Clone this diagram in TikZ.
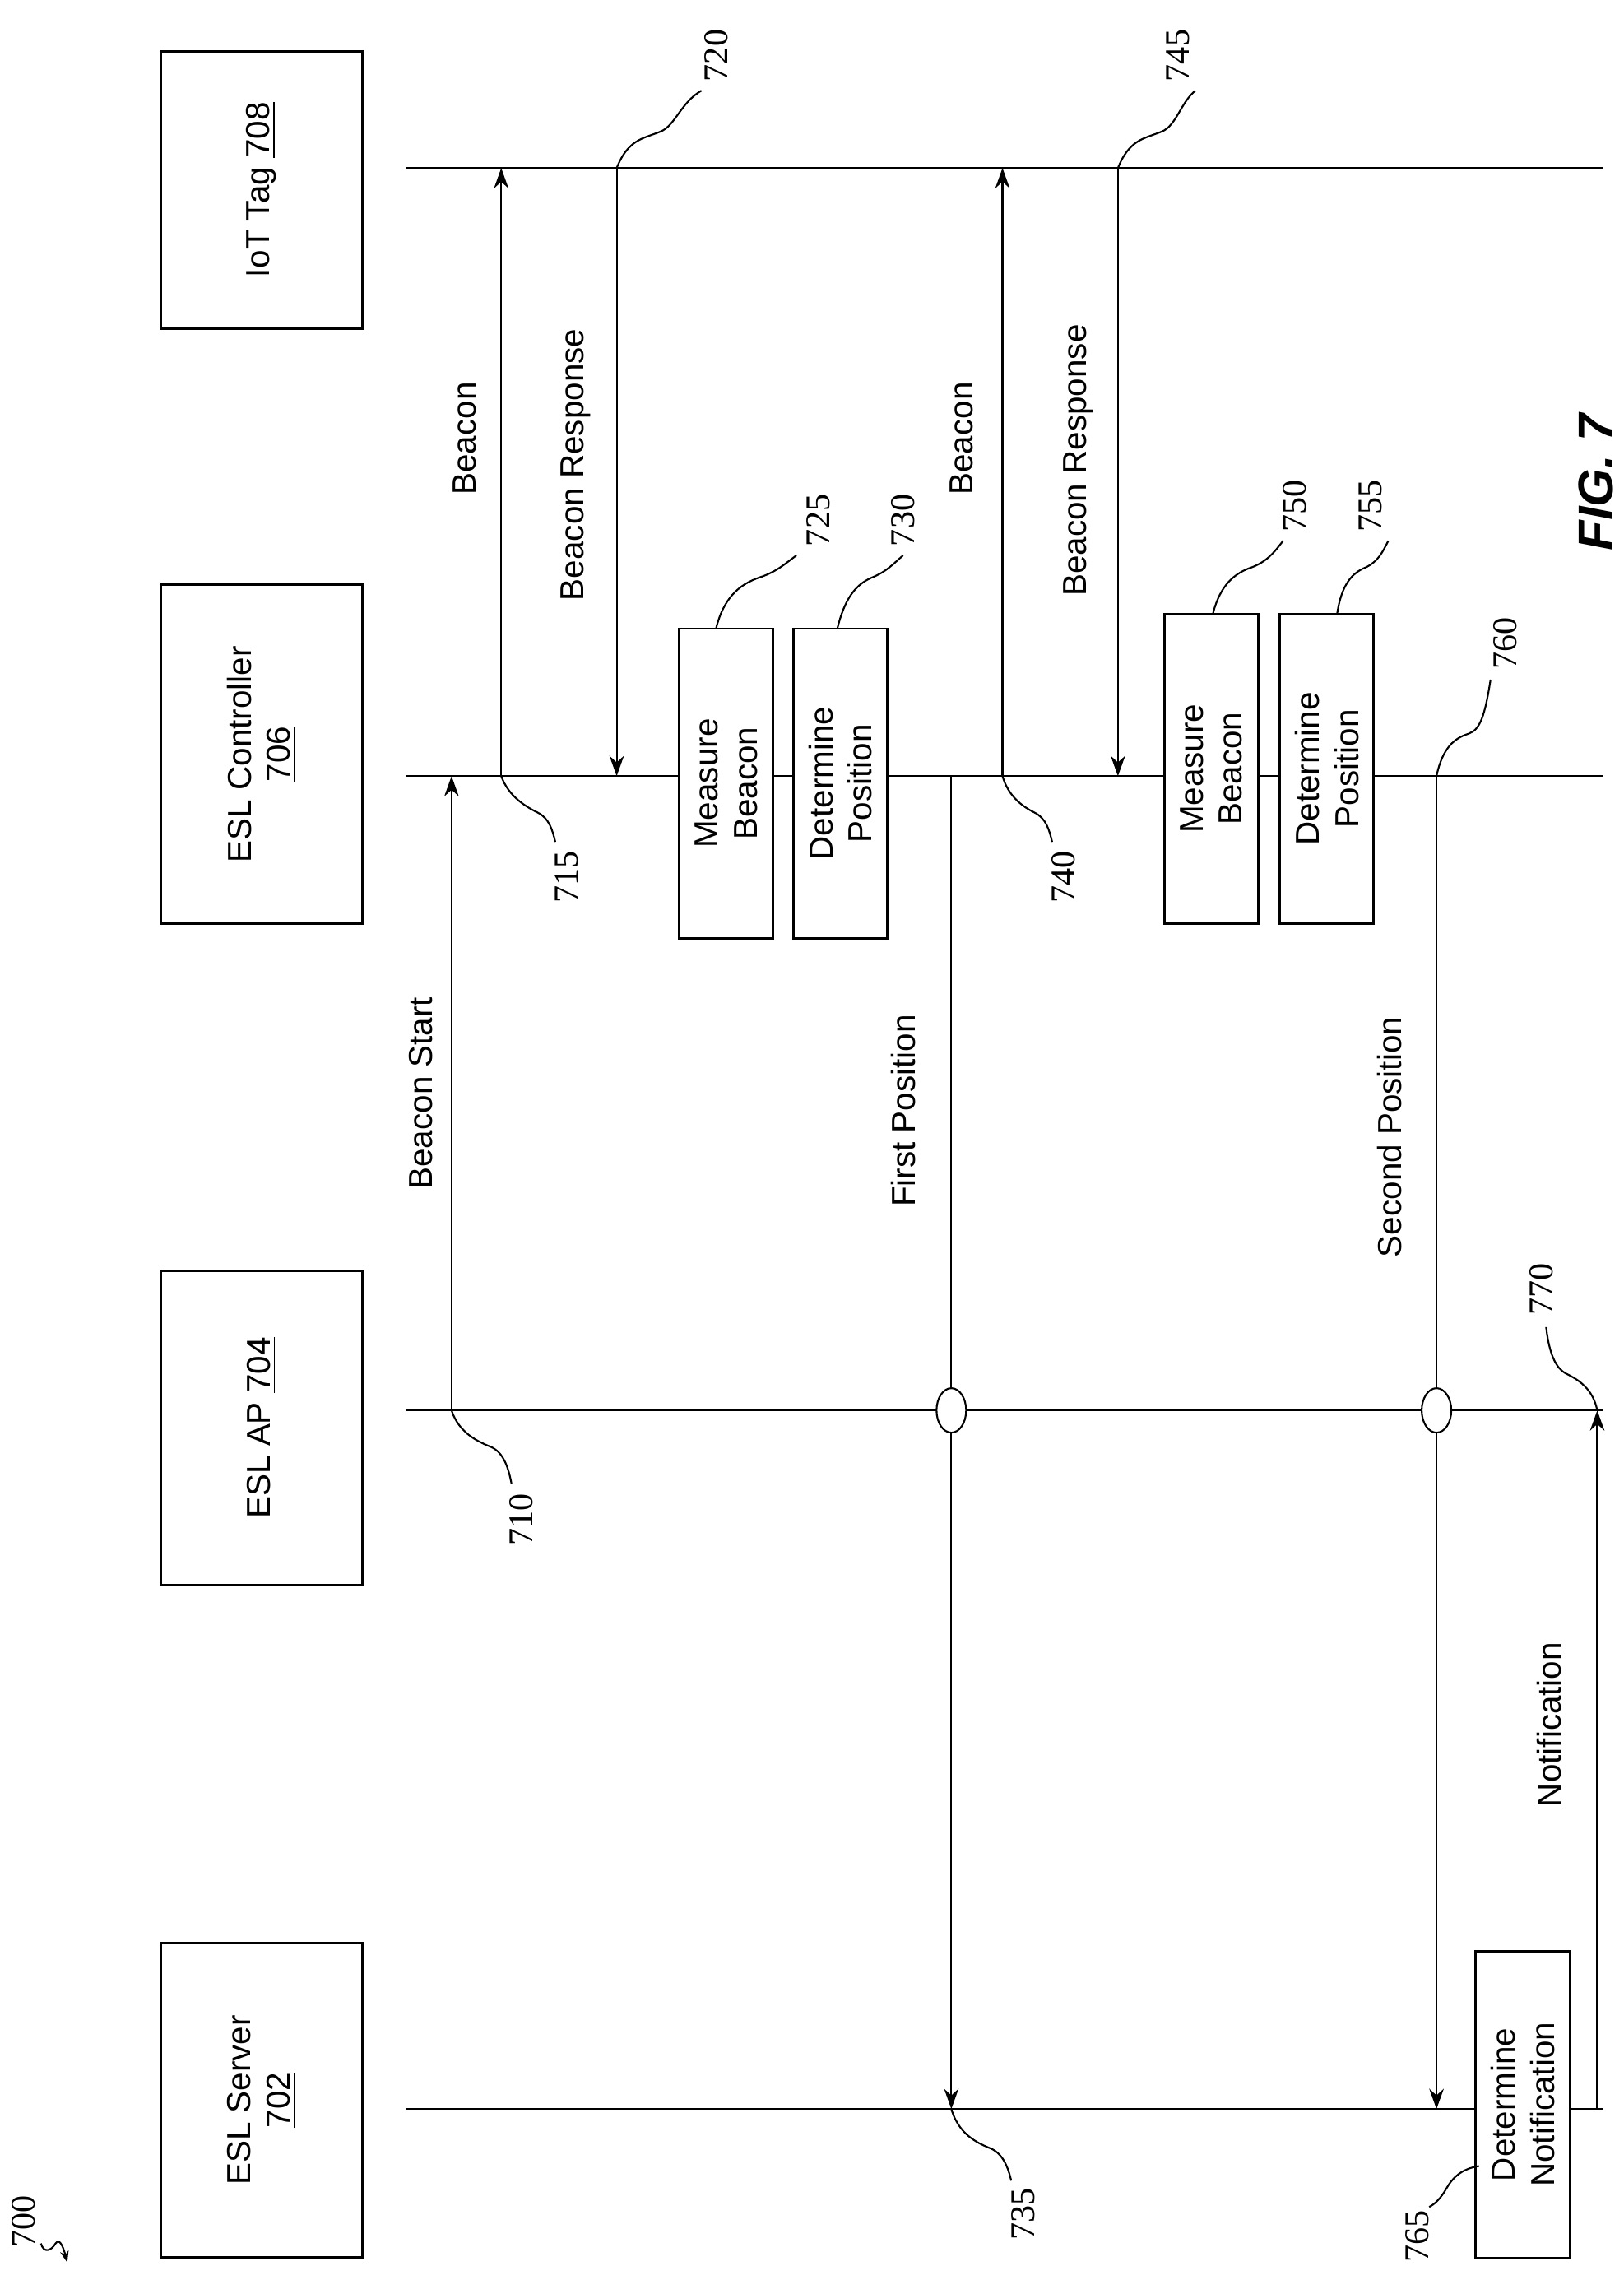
\documentclass[tikz,border=0pt]{standalone}
\usepackage{fontspec}
\setmainfont{Liberation Sans}
\newfontfamily\numfont{Liberation Serif}
\usetikzlibrary{arrows.meta,shapes.geometric}
\begin{document}
\begin{tikzpicture}[x=0.1776mm,y=-0.1776mm,
  every node/.style={font=\fontsize{11.5}{13.5}\selectfont},
  life/.style={line width=0.6pt},
  msg/.style={line width=0.6pt,-{Stealth[length=7pt,width=5pt]}},
  ent/.style={draw,line width=0.8pt,rotate=90,align=center,minimum height=24.5mm,inner sep=0pt},
  act/.style={draw,fill=white,line width=0.8pt,rotate=90,align=center,minimum width=37.6mm,minimum height=11.4mm,inner sep=0pt},
  lbl/.style={rotate=90},
  num/.style={rotate=90,font=\numfont\fontsize{12}{14}\selectfont},
  lead/.style={line width=0.6pt},
  cross/.style={draw,fill=white,line width=0.6pt,ellipse,minimum width=3.6mm,minimum height=5.4mm,inner sep=0pt}]
\path[use as bounding box] (0,0) rectangle (1111,1560);
% entities
\node[ent,minimum width=33.7mm] (iot) at (179,130) {IoT Tag \underline{708}};
\node[ent,minimum width=41.2mm] (ctl) at (179,516) {ESL Controller\\\underline{706}};
\node[ent,minimum width=38.2mm] (ap) at (179,977) {ESL AP \underline{704}};
\node[ent,minimum width=38.2mm] (srv) at (179,1437) {ESL Server\\\underline{702}};
% lifelines
\coordinate (iotA) at (278,115); \coordinate (iotB) at (1097,115);
\coordinate (ctlA) at (278,531); \coordinate (ctlB) at (1097,531);
\coordinate (apA) at (278,965); \coordinate (apB) at (1097,965);
\coordinate (srvA) at (278,1443); \coordinate (srvB) at (1097,1443);
\draw[life] (iotA)--(iotB); \draw[life] (ctlA)--(ctlB);
\draw[life] (apA)--(apB); \draw[life] (srvA)--(srvB);
% message endpoints
\coordinate (m710) at (309,965); \coordinate (m710e) at (309,531);
\coordinate (m715) at (343,531); \coordinate (m715e) at (343,115);
\coordinate (m720) at (422,115); \coordinate (m720e) at (422,531);
\coordinate (m730) at (651,531); \coordinate (m730e) at (651,1443);
\coordinate (m740) at (686,531); \coordinate (m740e) at (686,115);
\coordinate (m745) at (765,115); \coordinate (m745e) at (765,531);
\coordinate (m755) at (983,531); \coordinate (m755e) at (983,1443);
\coordinate (m770) at (1093,1443); \coordinate (m770e) at (1093,965);
\draw[msg] (m710)--(m710e);
\draw[msg] (m715)--(m715e);
\draw[msg] (m720)--(m720e);
\draw[msg] (m730)--(m730e);
\draw[msg] (m740)--(m740e);
\draw[msg] (m745)--(m745e);
\draw[msg] (m755)--(m755e);
\draw[msg] (m770)--(m770e);
\node[cross] (x1) at (651,965) {};
\node[cross] (x2) at (983,965) {};
% message labels
\node[lbl] (lb1) at (288,748) {Beacon Start};
\node[lbl] (lb2) at (318,300) {Beacon};
\node[lbl] (lb3) at (394,318) {Beacon Response};
\node[lbl] (lb4) at (618,760) {First Position};
\node[lbl] (lb5) at (658,300) {Beacon};
\node[lbl] (lb6) at (738,315) {Beacon Response};
\node[lbl] (lb7) at (951,778) {Second Position};
\node[lbl] (lb8) at (1060,1180) {Notification};
% activity boxes
\node[act] (a725) at (497,536) {Measure\\Beacon};
\node[act] (a730) at (575,536) {Determine\\Position};
\node[act] (a750) at (829,526) {Measure\\Beacon};
\node[act] (a755) at (908,526) {Determine\\Position};
\node[act,minimum width=37.3mm] (a765) at (1042,1440) {Determine\\Notification};
% reference numbers
\node[num] (n720) at (490,38) {720};
\node[num] (n745) at (806,38) {745};
\node[num] (n725) at (560,356) {725};
\node[num] (n730) at (618,356) {730};
\node[num] (n750) at (886,346) {750};
\node[num] (n755) at (938,346) {755};
\node[num] (n760) at (1030,440) {760};
\node[num] (n715) at (388,600) {715};
\node[num] (n740) at (728,600) {740};
\node[num] (n710) at (357,1040) {710};
\node[num] (n735) at (700,1515) {735};
\node[num] (n770) at (1055,882) {770};
\node[num] (n765) at (970,1530) {765};
\node[lbl,font=\bfseries\itshape\fontsize{17}{20}\selectfont] (fig) at (1092,330) {FIG. 7};
\node[num] (n700) at (18,1520) {\underline{700}};
% leaders
\draw[lead] (m720) .. controls (430,95) and (440,95) .. (452,90) .. controls (462,86) and (466,70) .. (480,62);
\draw[lead] (m745) .. controls (773,95) and (783,95) .. (795,90) .. controls (805,86) and (808,70) .. (818,62);
\draw[lead] (490,430) .. controls (495,410) and (505,400) .. (520,395) .. controls (532,391) and (538,385) .. (545,380);
\draw[lead] (573,430) .. controls (578,410) and (585,400) .. (597,395) .. controls (607,391) and (612,385) .. (618,380);
\draw[lead] (830,420) .. controls (835,400) and (845,392) .. (857,388) .. controls (867,384) and (872,378) .. (878,370);
\draw[lead] (915,420) .. controls (918,400) and (925,392) .. (935,388) .. controls (943,384) and (946,378) .. (950,370);
\draw[lead] (m755) .. controls (987,512) and (995,505) .. (1005,502) .. controls (1013,499) and (1016,490) .. (1020,465);
\draw[lead] (m715) .. controls (348,545) and (360,552) .. (368,556) .. controls (376,560) and (378,568) .. (380,576);
\draw[lead] (m740) .. controls (690,545) and (700,552) .. (708,556) .. controls (716,560) and (718,568) .. (720,576);
\draw[lead] (m710) .. controls (314,980) and (326,986) .. (336,990) .. controls (345,994) and (348,1005) .. (350,1015);
\draw[lead] (m730e) .. controls (656,1460) and (668,1466) .. (678,1470) .. controls (687,1474) and (690,1484) .. (692,1492);
\draw[lead] (m770e) .. controls (1090,950) and (1080,944) .. (1072,940) .. controls (1064,936) and (1060,925) .. (1058,908);
\draw[lead] (1012,1482) .. controls (1000,1484) and (994,1490) .. (990,1497) .. controls (986,1504) and (982,1508) .. (978,1510);
\draw[lead,-{Stealth[length=4pt,width=3pt]}] (28,1535) .. controls (30,1542) and (35,1540) .. (38,1535) .. controls (41,1530) and (44,1540) .. (46,1548);
\end{tikzpicture}
\end{document}
